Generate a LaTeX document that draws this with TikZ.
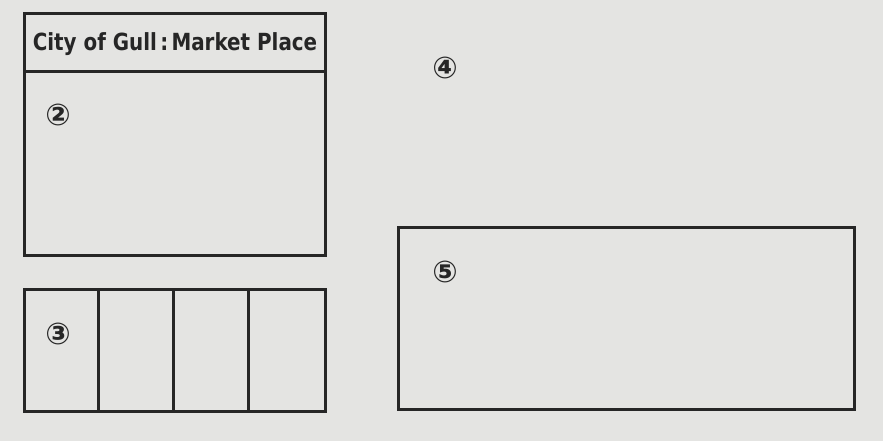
\documentclass[tikz,border=0pt]{standalone}
\usepackage{fontspec}
\setmainfont{DejaVu Sans}
\begin{document}
\begin{tikzpicture}[x=1pt,y=-1pt,
  frame/.style={draw=black!85, line width=2.8pt, fill=none, inner sep=0pt, anchor=north west},
  sep/.style={draw=black!85, line width=3pt},
  num/.style={font=\bfseries\fontsize{30}{30}\selectfont, text=black!85, inner sep=0pt},
  title/.style={font=\bfseries\fontsize{20.5}{21}\selectfont, text=black!85, inner sep=0pt}]
\fill[color={rgb,255:red,228;green,228;blue,226}] (0,0) rectangle (883,441);
\useasboundingbox (0,0) rectangle (883,441);
% box 1
\node[frame, minimum width=301pt, minimum height=242pt] (b1) at (23,12) {};
\coordinate (d1l) at (23,72);
\coordinate (d1r) at (324,72);
\draw[sep] (d1l) -- (d1r);
\node[title] (t1) at (175,44) {\scalebox{0.97}[1.15]{City of Gull\,:\,Market Place}};
\node[num] (n2) at (58,115) {②};
% box 3
\node[frame, minimum width=301pt, minimum height=122pt] (b3) at (23,288) {};
\foreach \i/\x in {1/98,2/173,3/248}{
  \coordinate (ct\i) at (\x,288);
  \coordinate (cb\i) at (\x,410);
  \draw[sep] (ct\i) -- (cb\i);
}
\node[num] (n3) at (58,334) {③};
% label 4
\node[num] (n4) at (445,68) {④};
% box 5
\node[frame, minimum width=456pt, minimum height=182pt] (b5) at (397,226) {};
\node[num] (n5) at (445,272) {⑤};
\end{tikzpicture}
\end{document}
